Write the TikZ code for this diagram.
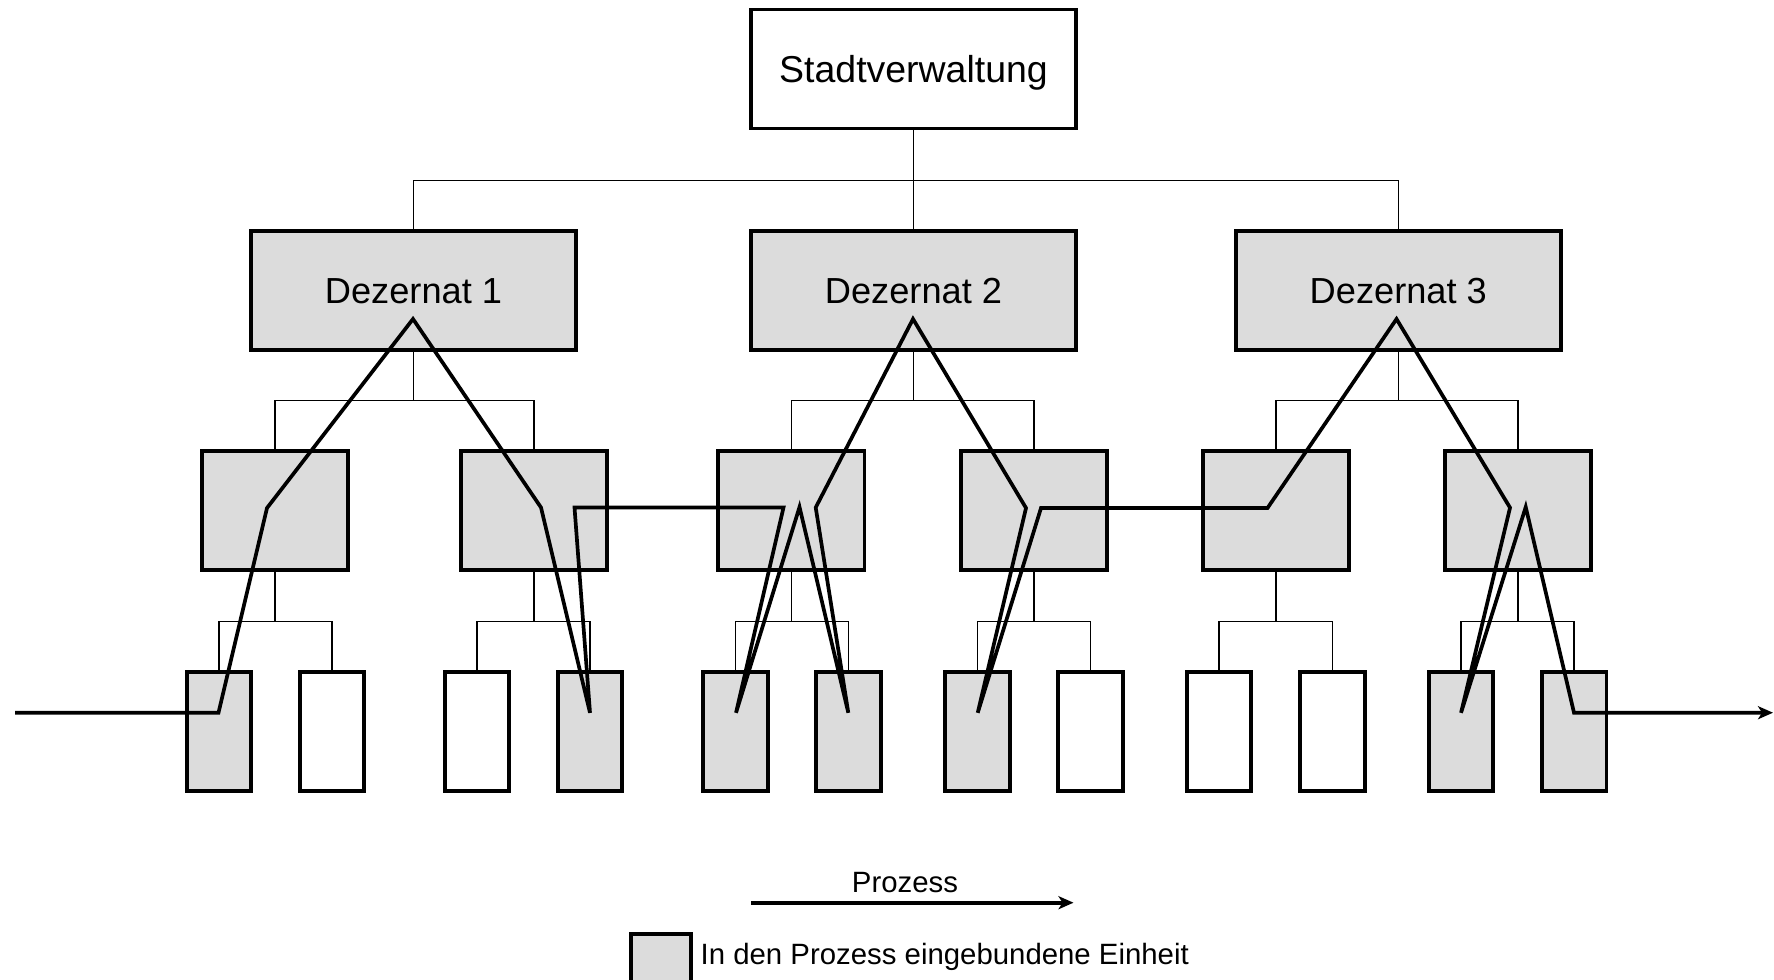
\documentclass[tikz,border=0pt]{standalone}
\usepackage{fontspec}
\setmainfont{Liberation Sans}
\usetikzlibrary{arrows.meta}
\definecolor{unitgray}{RGB}{220,220,220}
\begin{document}
\begin{tikzpicture}[x=0.01cm,y=-0.01cm,
  box/.style={draw, line width=1.1pt, inner sep=0pt, outer sep=0pt, text depth=0pt},
  big/.style={box, minimum width=3.25cm, minimum height=1.19cm, text height=7.35pt, font=\fontsize{10.3}{12}\selectfont},
  mid/.style={box, minimum width=1.46cm, minimum height=1.19cm, fill=unitgray},
  leaf/.style={box, minimum width=0.645cm, minimum height=1.19cm},
  on/.style={fill=unitgray},
  off/.style={fill=white},
  conn/.style={line width=0.45pt},
  proc/.style={line width=1.05pt},
  tip/.style={-{Stealth[length=0.15cm,width=0.13cm,inset=0.04cm]}},
  small/.style={inner sep=0pt, text height=6pt, text depth=0pt, font=\fontsize{8.35}{10}\selectfont}
]
\useasboundingbox (0,0) rectangle (1774,979);
\clip (0,0) rectangle (1774,979);

% top levels
\node[big, off, text height=7.6pt, font=\fontsize{10.65}{12}\selectfont] (sv) at (913.5,69) {Stadtverwaltung};
\node[big, on] (d1) at (413.5,290.5) {Dezernat 1};
\node[big, on] (d2) at (913.5,290.5) {Dezernat 2};
\node[big, on] (d3) at (1398.3,290.5) {Dezernat 3};

% middle level
\node[mid] (m1) at (275,510.8) {};
\node[mid] (m2) at (533.7,510.8) {};
\node[mid] (m3) at (791.4,510.8) {};
\node[mid] (m4) at (1033.7,510.8) {};
\node[mid] (m5) at (1275.7,510.8) {};
\node[mid] (m6) at (1517.8,510.8) {};

% leaves
\node[leaf, on]  (l1)  at (219,731.5) {};
\node[leaf, off] (l2)  at (332,731.5) {};
\node[leaf, off] (l3)  at (477,731.5) {};
\node[leaf, on]  (l4)  at (590,731.5) {};
\node[leaf, on]  (l5)  at (735.5,731.5) {};
\node[leaf, on]  (l6)  at (848.5,731.5) {};
\node[leaf, on]  (l7)  at (977.5,731.5) {};
\node[leaf, off] (l8)  at (1090.3,731.5) {};
\node[leaf, off] (l9)  at (1219,731.5) {};
\node[leaf, off] (l10) at (1332.3,731.5) {};
\node[leaf, on]  (l11) at (1461,731.5) {};
\node[leaf, on]  (l12) at (1574.2,731.5) {};

% tree connectors
\draw[conn] (sv.south) -- ++(0,52) -| (d1.north);
\draw[conn] (sv.south) -- ++(0,52) -| (d3.north);
\draw[conn] (sv.south) -- (d2.north);
\foreach \d/\a/\b in {d1/m1/m2, d2/m3/m4, d3/m5/m6}{
  \draw[conn] (\d.south) -- ++(0,50.5) -| (\a.north);
  \draw[conn] (\d.south) -- ++(0,50.5) -| (\b.north);
}
\foreach \m/\a/\b in {m1/l1/l2, m2/l3/l4, m3/l5/l6, m4/l7/l8, m5/l9/l10, m6/l11/l12}{
  \draw[conn] (\m.south) -- ++(0,51) -| (\a.north);
  \draw[conn] (\m.south) -- ++(0,51) -| (\b.north);
}

% process line
\coordinate (pin) at (15,712.7);
\coordinate (pout) at (1773,712.7);
\draw[proc, tip] (pin) -- (218.5,712.7) -- (267,508) -- (413,319) -- (541,507.5)
  -- (590,712.8) -- (574.5,507.5) -- (783.5,507.5) -- (736,712.8) -- (799.5,507)
  -- (848.3,712.8) -- (815.7,507.5) -- (913,319) -- (1026,508) -- (977.7,712.8)
  -- (1041,508) -- (1267.5,508) -- (1396.5,319) -- (1510,507.7) -- (1461,712.8)
  -- (1525.7,507) -- (1574,712.8) -- (pout);

% legend
\node[small] (plabel) at (905,881.7) {Prozess};
\coordinate (pa) at (751,902.7);
\coordinate (pb) at (1073.5,902.7);
\draw[proc, tip] (pa) -- (pb);
\node[box, on, minimum width=0.597cm, minimum height=0.6cm] (key) at (660.8,964) {};
\node[small, anchor=west] (keytxt) at (700,953.5) {In den Prozess eingebundene Einheit};
\end{tikzpicture}
\end{document}
